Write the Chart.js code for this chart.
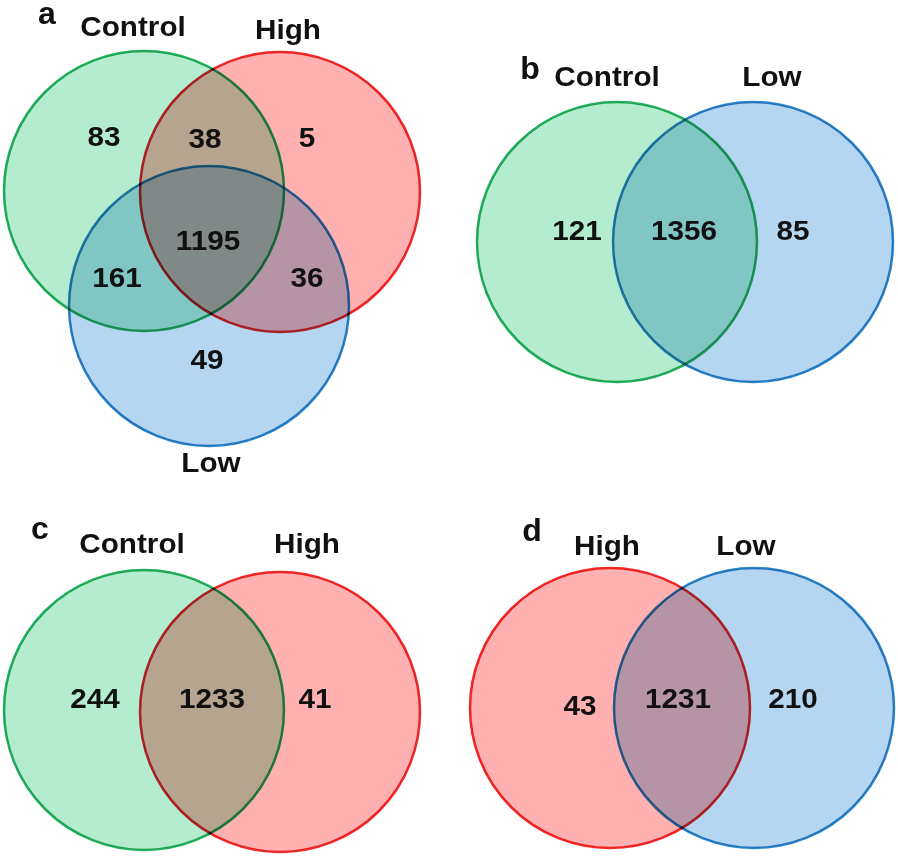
<!DOCTYPE html>
<html>
<head>
<meta charset="utf-8">
<script src="https://cdn.jsdelivr.net/npm/chart.js@4"></script>
<style>
html,body{margin:0;padding:0;background:#fff;}
#wrap{width:898px;height:858px;}
</style>
</head>
<body>
<div id="wrap"><canvas id="c" width="898" height="858"></canvas></div>
<script>
// ---- data ----
const panels = ['a', 'b', 'c', 'd'];
const setNames = ['Control', 'High', 'Low'];
// panel a: Control only, Control∩High, High only, Control∩Low, all three, High∩Low, Low only
const countsA = [83, 38, 5, 161, 1195, 36, 49];
// panel b: Control only, Control∩Low, Low only
const countsB = [121, 1356, 85];
// panel c: Control only, Control∩High, High only
const countsC = [244, 1233, 41];
// panel d: High only, High∩Low, Low only
const countsD = [43, 1231, 210];

// ---- layout (pixel-space coordinates of the drawing area) ----
const R = 140;
const circleLayout = {
  Control: [{p:'a', x:144, y:191}, {p:'b', x:617, y:242}, {p:'c', x:144, y:710}],
  High:    [{p:'a', x:280, y:192}, {p:'c', x:280, y:712}, {p:'d', x:610, y:708}],
  Low:     [{p:'a', x:209, y:306}, {p:'b', x:753, y:242}, {p:'d', x:754, y:708}]
};
const countPos = {
  a: [[104,138],[205,140],[307,139],[117,279],[208,242],[307,279],[207,361]],
  b: [[577,232],[684,232],[793,232]],
  c: [[95,700],[212,700],[315,700]],
  d: [[580,707],[678,700],[793,700]]
};
const letterPos = {a:[47,15], b:[530,70], c:[40,530], d:[532,532]};
const namePos = {
  a: [['Control',133,28],['High',288,31],['Low',211,464]],
  b: [['Control',607,78],['Low',772,78]],
  c: [['Control',132,545],['High',307,545]],
  d: [['High',607,547],['Low',746,547]]
};
const countsByPanel = {a: countsA, b: countsB, c: countsC, d: countsD};

const fills = {Control:'#b4ecd0', High:'#ffb1b1', Low:'#b5d6f0'};
const strokes = {Control:'#22b060', High:'#ee2a2a', Low:'#2a84c8'};

function ds(name){
  return {
    label: name,
    data: circleLayout[name].map(c => ({x:c.x, y:c.y, r:R})),
    backgroundColor: fills[name],
    borderColor: strokes[name],
    borderWidth: 2.5,
    hoverRadius: 0,
    hoverBorderWidth: 2.5,
    clip: false
  };
}

function drawWide(ctx, text, x, y){
  ctx.save();
  ctx.translate(x, y);
  ctx.scale(1.06, 1);
  ctx.fillText(text, 0, 0);
  ctx.restore();
}

const venn = {
  id: 'venn',
  beforeDraw(chart){
    const ctx = chart.ctx;
    ctx.save();
    ctx.fillStyle = '#fff';
    ctx.fillRect(0,0,chart.width,chart.height);
    ctx.restore();
  },
  beforeDatasetsDraw(chart){
    chart.ctx.save();
    chart.ctx.globalCompositeOperation = 'multiply';
  },
  afterDatasetsDraw(chart){
    const ctx = chart.ctx;
    ctx.restore();
    const xs = chart.scales.x, ys = chart.scales.y;
    ctx.save();
    ctx.globalCompositeOperation = 'source-over';
    ctx.fillStyle = '#111';
    ctx.textAlign = 'center';
    ctx.textBaseline = 'middle';
    panels.forEach(p => {
      ctx.font = 'bold 32px "Liberation Sans", Arial, sans-serif';
      ctx.fillText(p, xs.getPixelForValue(letterPos[p][0]), ys.getPixelForValue(letterPos[p][1]));
      ctx.font = 'bold 28px "Liberation Sans", Arial, sans-serif';
      namePos[p].forEach(([t,x,y]) => drawWide(ctx, t, xs.getPixelForValue(x), ys.getPixelForValue(y)));
      countsByPanel[p].forEach((v,i) => {
        const [x,y] = countPos[p][i];
        drawWide(ctx, String(v), xs.getPixelForValue(x), ys.getPixelForValue(y));
      });
    });
    ctx.restore();
  }
};

new Chart(document.getElementById('c'), {
  type: 'bubble',
  data: { datasets: [ds('High'), ds('Low'), ds('Control')] },
  options: {
    responsive: false,
    animation: false,
    events: [],
    layout: { padding: 0, autoPadding: false },
    plugins: { legend: {display:false}, tooltip: {enabled:false} },
    scales: {
      x: { type:'linear', min:0, max:898, display:false },
      y: { type:'linear', min:0, max:858, reverse:true, display:false }
    }
  },
  plugins: [venn]
});
</script>
</body>
</html>
